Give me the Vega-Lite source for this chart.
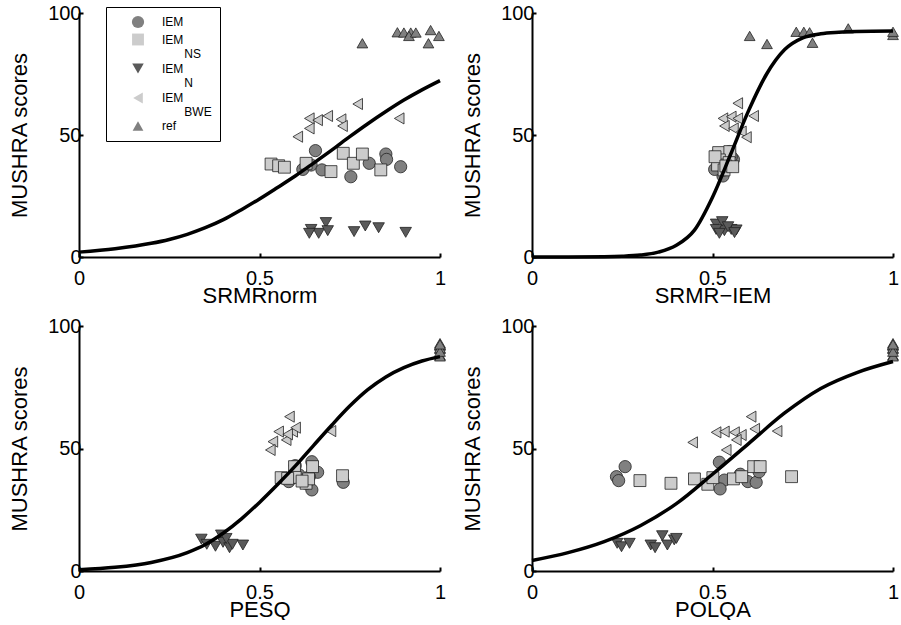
{
  "$schema": "https://vega.github.io/schema/vega-lite/v6.json",
  "autosize": {"type": "pad"},
  "padding": {"left": 8, "top": 3, "right": 0, "bottom": 0},
  "background": "white",
  "datasets": {
    "pts": [
      {"p":"SRMRnorm","c":"IEM","x":0.655,"y":43.6},{"p":"SRMRnorm","c":"IEM","x":0.620,"y":35.9},{"p":"SRMRnorm","c":"IEM","x":0.643,"y":37.7},{"p":"SRMRnorm","c":"IEM","x":0.673,"y":35.7},{"p":"SRMRnorm","c":"IEM","x":0.753,"y":32.9},{"p":"SRMRnorm","c":"IEM","x":0.804,"y":38.4},{"p":"SRMRnorm","c":"IEM","x":0.850,"y":42.2},{"p":"SRMRnorm","c":"IEM","x":0.852,"y":40.0},{"p":"SRMRnorm","c":"IEM","x":0.891,"y":37.0},
      {"p":"SRMRnorm","c":"IEM_NS","x":0.532,"y":38.1},{"p":"SRMRnorm","c":"IEM_NS","x":0.553,"y":37.4},{"p":"SRMRnorm","c":"IEM_NS","x":0.569,"y":36.8},{"p":"SRMRnorm","c":"IEM_NS","x":0.629,"y":38.4},{"p":"SRMRnorm","c":"IEM_NS","x":0.698,"y":35.0},{"p":"SRMRnorm","c":"IEM_NS","x":0.732,"y":42.5},{"p":"SRMRnorm","c":"IEM_NS","x":0.760,"y":38.4},{"p":"SRMRnorm","c":"IEM_NS","x":0.785,"y":42.2},{"p":"SRMRnorm","c":"IEM_NS","x":0.836,"y":35.7},
      {"p":"SRMRnorm","c":"IEM_N","x":0.643,"y":11.3},{"p":"SRMRnorm","c":"IEM_N","x":0.664,"y":9.7},{"p":"SRMRnorm","c":"IEM_N","x":0.684,"y":14.1},{"p":"SRMRnorm","c":"IEM_N","x":0.689,"y":10.8},{"p":"SRMRnorm","c":"IEM_N","x":0.762,"y":10.4},{"p":"SRMRnorm","c":"IEM_N","x":0.793,"y":12.7},{"p":"SRMRnorm","c":"IEM_N","x":0.830,"y":12.0},{"p":"SRMRnorm","c":"IEM_N","x":0.905,"y":10.1},{"p":"SRMRnorm","c":"IEM_N","x":0.638,"y":9.7},
      {"p":"SRMRnorm","c":"IEM_BWE","x":0.772,"y":62.7},{"p":"SRMRnorm","c":"IEM_BWE","x":0.638,"y":56.8},{"p":"SRMRnorm","c":"IEM_BWE","x":0.661,"y":56.1},{"p":"SRMRnorm","c":"IEM_BWE","x":0.689,"y":57.8},{"p":"SRMRnorm","c":"IEM_BWE","x":0.726,"y":56.4},{"p":"SRMRnorm","c":"IEM_BWE","x":0.730,"y":53.7},{"p":"SRMRnorm","c":"IEM_BWE","x":0.638,"y":52.7},{"p":"SRMRnorm","c":"IEM_BWE","x":0.606,"y":49.3},{"p":"SRMRnorm","c":"IEM_BWE","x":0.887,"y":56.8},
      {"p":"SRMRnorm","c":"ref","x":0.785,"y":87.6},{"p":"SRMRnorm","c":"ref","x":0.882,"y":92.1},{"p":"SRMRnorm","c":"ref","x":0.900,"y":92.0},{"p":"SRMRnorm","c":"ref","x":0.919,"y":92.0},{"p":"SRMRnorm","c":"ref","x":0.914,"y":90.6},{"p":"SRMRnorm","c":"ref","x":0.933,"y":92.0},{"p":"SRMRnorm","c":"ref","x":0.974,"y":93.0},{"p":"SRMRnorm","c":"ref","x":0.997,"y":90.6},{"p":"SRMRnorm","c":"ref","x":0.968,"y":87.6},

      {"p":"SRMR-IEM","c":"IEM","x":0.510,"y":41.8},{"p":"SRMR-IEM","c":"IEM","x":0.547,"y":43.2},{"p":"SRMR-IEM","c":"IEM","x":0.558,"y":40.0},{"p":"SRMR-IEM","c":"IEM","x":0.529,"y":33.2},{"p":"SRMR-IEM","c":"IEM","x":0.506,"y":35.9},{"p":"SRMR-IEM","c":"IEM","x":0.542,"y":37.7},{"p":"SRMR-IEM","c":"IEM","x":0.524,"y":38.4},{"p":"SRMR-IEM","c":"IEM","x":0.552,"y":41.1},{"p":"SRMR-IEM","c":"IEM","x":0.532,"y":35.7},
      {"p":"SRMR-IEM","c":"IEM_NS","x":0.517,"y":42.8},{"p":"SRMR-IEM","c":"IEM_NS","x":0.548,"y":43.2},{"p":"SRMR-IEM","c":"IEM_NS","x":0.519,"y":39.8},{"p":"SRMR-IEM","c":"IEM_NS","x":0.514,"y":37.7},{"p":"SRMR-IEM","c":"IEM_NS","x":0.532,"y":35.7},{"p":"SRMR-IEM","c":"IEM_NS","x":0.546,"y":38.7},{"p":"SRMR-IEM","c":"IEM_NS","x":0.507,"y":41.1},{"p":"SRMR-IEM","c":"IEM_NS","x":0.537,"y":37.3},{"p":"SRMR-IEM","c":"IEM_NS","x":0.556,"y":37.0},
      {"p":"SRMR-IEM","c":"IEM_N","x":0.510,"y":13.5},{"p":"SRMR-IEM","c":"IEM_N","x":0.527,"y":14.5},{"p":"SRMR-IEM","c":"IEM_N","x":0.533,"y":10.8},{"p":"SRMR-IEM","c":"IEM_N","x":0.510,"y":11.3},{"p":"SRMR-IEM","c":"IEM_N","x":0.552,"y":11.3},{"p":"SRMR-IEM","c":"IEM_N","x":0.566,"y":11.1},{"p":"SRMR-IEM","c":"IEM_N","x":0.543,"y":12.4},{"p":"SRMR-IEM","c":"IEM_N","x":0.519,"y":9.7},{"p":"SRMR-IEM","c":"IEM_N","x":0.561,"y":10.0},
      {"p":"SRMR-IEM","c":"IEM_BWE","x":0.570,"y":63.0},{"p":"SRMR-IEM","c":"IEM_BWE","x":0.529,"y":56.8},{"p":"SRMR-IEM","c":"IEM_BWE","x":0.552,"y":57.5},{"p":"SRMR-IEM","c":"IEM_BWE","x":0.570,"y":56.8},{"p":"SRMR-IEM","c":"IEM_BWE","x":0.614,"y":57.8},{"p":"SRMR-IEM","c":"IEM_BWE","x":0.533,"y":53.7},{"p":"SRMR-IEM","c":"IEM_BWE","x":0.558,"y":52.7},{"p":"SRMR-IEM","c":"IEM_BWE","x":0.580,"y":51.4},{"p":"SRMR-IEM","c":"IEM_BWE","x":0.594,"y":49.1},
      {"p":"SRMR-IEM","c":"ref","x":0.603,"y":90.6},{"p":"SRMR-IEM","c":"ref","x":0.651,"y":87.3},{"p":"SRMR-IEM","c":"ref","x":0.732,"y":92.3},{"p":"SRMR-IEM","c":"ref","x":0.753,"y":92.3},{"p":"SRMR-IEM","c":"ref","x":0.769,"y":92.1},{"p":"SRMR-IEM","c":"ref","x":0.777,"y":87.8},{"p":"SRMR-IEM","c":"ref","x":0.876,"y":93.7},{"p":"SRMR-IEM","c":"ref","x":1.0,"y":91.0},{"p":"SRMR-IEM","c":"ref","x":1.0,"y":92.3},

      {"p":"PESQ","c":"IEM","x":0.599,"y":43.0},{"p":"PESQ","c":"IEM","x":0.645,"y":44.6},{"p":"PESQ","c":"IEM","x":0.661,"y":40.3},{"p":"PESQ","c":"IEM","x":0.638,"y":38.5},{"p":"PESQ","c":"IEM","x":0.581,"y":36.5},{"p":"PESQ","c":"IEM","x":0.645,"y":33.1},{"p":"PESQ","c":"IEM","x":0.732,"y":36.2},{"p":"PESQ","c":"IEM","x":0.629,"y":35.8},{"p":"PESQ","c":"IEM","x":0.610,"y":39.2},
      {"p":"PESQ","c":"IEM_NS","x":0.597,"y":42.6},{"p":"PESQ","c":"IEM_NS","x":0.647,"y":42.6},{"p":"PESQ","c":"IEM_NS","x":0.560,"y":38.1},{"p":"PESQ","c":"IEM_NS","x":0.599,"y":38.2},{"p":"PESQ","c":"IEM_NS","x":0.629,"y":35.8},{"p":"PESQ","c":"IEM_NS","x":0.636,"y":37.6},{"p":"PESQ","c":"IEM_NS","x":0.730,"y":38.9},{"p":"PESQ","c":"IEM_NS","x":0.618,"y":36.7},{"p":"PESQ","c":"IEM_NS","x":0.578,"y":37.8},
      {"p":"PESQ","c":"IEM_N","x":0.339,"y":13.0},{"p":"PESQ","c":"IEM_N","x":0.354,"y":10.9},{"p":"PESQ","c":"IEM_N","x":0.378,"y":10.1},{"p":"PESQ","c":"IEM_N","x":0.394,"y":14.7},{"p":"PESQ","c":"IEM_N","x":0.399,"y":11.7},{"p":"PESQ","c":"IEM_N","x":0.417,"y":9.5},{"p":"PESQ","c":"IEM_N","x":0.425,"y":10.9},{"p":"PESQ","c":"IEM_N","x":0.454,"y":10.6},{"p":"PESQ","c":"IEM_N","x":0.408,"y":13.3},
      {"p":"PESQ","c":"IEM_BWE","x":0.583,"y":63.0},{"p":"PESQ","c":"IEM_BWE","x":0.553,"y":56.9},{"p":"PESQ","c":"IEM_BWE","x":0.574,"y":53.5},{"p":"PESQ","c":"IEM_BWE","x":0.592,"y":56.9},{"p":"PESQ","c":"IEM_BWE","x":0.600,"y":58.5},{"p":"PESQ","c":"IEM_BWE","x":0.537,"y":52.8},{"p":"PESQ","c":"IEM_BWE","x":0.530,"y":49.4},{"p":"PESQ","c":"IEM_BWE","x":0.578,"y":55.8},{"p":"PESQ","c":"IEM_BWE","x":0.698,"y":57.1},
      {"p":"PESQ","c":"ref","x":1.0,"y":92.1},{"p":"PESQ","c":"ref","x":1.0,"y":93.0},{"p":"PESQ","c":"ref","x":1.0,"y":92.0},{"p":"PESQ","c":"ref","x":1.0,"y":90.6},{"p":"PESQ","c":"ref","x":1.0,"y":88.0},{"p":"PESQ","c":"ref","x":1.0,"y":87.6},{"p":"PESQ","c":"ref","x":1.0,"y":91.0},{"p":"PESQ","c":"ref","x":1.0,"y":89.5},{"p":"PESQ","c":"ref","x":1.0,"y":92.5},

      {"p":"POLQA","c":"IEM","x":0.258,"y":42.6},{"p":"POLQA","c":"IEM","x":0.234,"y":38.5},{"p":"POLQA","c":"IEM","x":0.240,"y":36.9},{"p":"POLQA","c":"IEM","x":0.519,"y":44.4},{"p":"POLQA","c":"IEM","x":0.533,"y":37.1},{"p":"POLQA","c":"IEM","x":0.521,"y":33.5},{"p":"POLQA","c":"IEM","x":0.577,"y":39.5},{"p":"POLQA","c":"IEM","x":0.598,"y":36.5},{"p":"POLQA","c":"IEM","x":0.621,"y":36.2},{"p":"POLQA","c":"IEM","x":0.629,"y":40.5},
      {"p":"POLQA","c":"IEM_NS","x":0.299,"y":36.9},{"p":"POLQA","c":"IEM_NS","x":0.385,"y":35.8},{"p":"POLQA","c":"IEM_NS","x":0.450,"y":37.6},{"p":"POLQA","c":"IEM_NS","x":0.487,"y":35.4},{"p":"POLQA","c":"IEM_NS","x":0.501,"y":38.1},{"p":"POLQA","c":"IEM_NS","x":0.558,"y":37.6},{"p":"POLQA","c":"IEM_NS","x":0.581,"y":38.5},{"p":"POLQA","c":"IEM_NS","x":0.614,"y":42.6},{"p":"POLQA","c":"IEM_NS","x":0.632,"y":42.6},{"p":"POLQA","c":"IEM_NS","x":0.719,"y":38.5},
      {"p":"POLQA","c":"IEM_N","x":0.236,"y":11.3},{"p":"POLQA","c":"IEM_N","x":0.248,"y":9.9},{"p":"POLQA","c":"IEM_N","x":0.270,"y":11.3},{"p":"POLQA","c":"IEM_N","x":0.329,"y":10.6},{"p":"POLQA","c":"IEM_N","x":0.341,"y":9.5},{"p":"POLQA","c":"IEM_N","x":0.361,"y":14.4},{"p":"POLQA","c":"IEM_N","x":0.375,"y":10.6},{"p":"POLQA","c":"IEM_N","x":0.394,"y":12.7},{"p":"POLQA","c":"IEM_N","x":0.400,"y":13.3},
      {"p":"POLQA","c":"IEM_BWE","x":0.607,"y":63.0},{"p":"POLQA","c":"IEM_BWE","x":0.445,"y":52.5},{"p":"POLQA","c":"IEM_BWE","x":0.510,"y":56.6},{"p":"POLQA","c":"IEM_BWE","x":0.533,"y":56.9},{"p":"POLQA","c":"IEM_BWE","x":0.561,"y":56.6},{"p":"POLQA","c":"IEM_BWE","x":0.580,"y":55.5},{"p":"POLQA","c":"IEM_BWE","x":0.566,"y":53.5},{"p":"POLQA","c":"IEM_BWE","x":0.617,"y":58.0},{"p":"POLQA","c":"IEM_BWE","x":0.679,"y":57.1},{"p":"POLQA","c":"IEM_BWE","x":0.538,"y":49.4},
      {"p":"POLQA","c":"ref","x":1.0,"y":92.1},{"p":"POLQA","c":"ref","x":1.0,"y":93.0},{"p":"POLQA","c":"ref","x":1.0,"y":92.0},{"p":"POLQA","c":"ref","x":1.0,"y":90.6},{"p":"POLQA","c":"ref","x":1.0,"y":88.0},{"p":"POLQA","c":"ref","x":1.0,"y":87.6},{"p":"POLQA","c":"ref","x":1.0,"y":91.0},{"p":"POLQA","c":"ref","x":1.0,"y":89.5},{"p":"POLQA","c":"ref","x":1.0,"y":92.5}
    ],
    "fit": [
      {"p":"SRMRnorm","x":0.0,"y":2.0},{"p":"SRMRnorm","x":0.1,"y":3.4},{"p":"SRMRnorm","x":0.2,"y":5.6},{"p":"SRMRnorm","x":0.25,"y":7.2},{"p":"SRMRnorm","x":0.3,"y":9.3},{"p":"SRMRnorm","x":0.35,"y":12.0},{"p":"SRMRnorm","x":0.4,"y":15.3},{"p":"SRMRnorm","x":0.45,"y":19.4},{"p":"SRMRnorm","x":0.5,"y":23.8},{"p":"SRMRnorm","x":0.55,"y":28.5},{"p":"SRMRnorm","x":0.6,"y":33.3},{"p":"SRMRnorm","x":0.65,"y":38.5},{"p":"SRMRnorm","x":0.7,"y":43.8},{"p":"SRMRnorm","x":0.75,"y":49.3},{"p":"SRMRnorm","x":0.8,"y":54.6},{"p":"SRMRnorm","x":0.85,"y":59.6},{"p":"SRMRnorm","x":0.9,"y":64.3},{"p":"SRMRnorm","x":0.95,"y":68.5},{"p":"SRMRnorm","x":1.0,"y":72.3},
      {"p":"SRMR-IEM","x":0.0,"y":0.0},{"p":"SRMR-IEM","x":0.1,"y":0.0},{"p":"SRMR-IEM","x":0.2,"y":0.1},{"p":"SRMR-IEM","x":0.25,"y":0.3},{"p":"SRMR-IEM","x":0.3,"y":0.8},{"p":"SRMR-IEM","x":0.35,"y":2.0},{"p":"SRMR-IEM","x":0.4,"y":4.8},{"p":"SRMR-IEM","x":0.45,"y":11.0},{"p":"SRMR-IEM","x":0.5,"y":24.5},{"p":"SRMR-IEM","x":0.55,"y":42.0},{"p":"SRMR-IEM","x":0.6,"y":60.0},{"p":"SRMR-IEM","x":0.65,"y":75.0},{"p":"SRMR-IEM","x":0.7,"y":85.0},{"p":"SRMR-IEM","x":0.75,"y":89.8},{"p":"SRMR-IEM","x":0.8,"y":91.5},{"p":"SRMR-IEM","x":0.85,"y":92.1},{"p":"SRMR-IEM","x":0.9,"y":92.4},{"p":"SRMR-IEM","x":1.0,"y":92.6},
      {"p":"PESQ","x":0.0,"y":0.5},{"p":"PESQ","x":0.1,"y":1.5},{"p":"PESQ","x":0.2,"y":3.5},{"p":"PESQ","x":0.3,"y":7.5},{"p":"PESQ","x":0.35,"y":10.8},{"p":"PESQ","x":0.4,"y":15.5},{"p":"PESQ","x":0.45,"y":21.3},{"p":"PESQ","x":0.5,"y":28.0},{"p":"PESQ","x":0.55,"y":35.3},{"p":"PESQ","x":0.6,"y":43.0},{"p":"PESQ","x":0.65,"y":51.3},{"p":"PESQ","x":0.7,"y":59.5},{"p":"PESQ","x":0.75,"y":67.3},{"p":"PESQ","x":0.8,"y":74.0},{"p":"PESQ","x":0.85,"y":79.2},{"p":"PESQ","x":0.9,"y":83.0},{"p":"PESQ","x":0.95,"y":85.7},{"p":"PESQ","x":1.0,"y":87.5},
      {"p":"POLQA","x":0.0,"y":4.3},{"p":"POLQA","x":0.1,"y":7.5},{"p":"POLQA","x":0.2,"y":12.0},{"p":"POLQA","x":0.3,"y":18.5},{"p":"POLQA","x":0.4,"y":27.5},{"p":"POLQA","x":0.5,"y":39.5},{"p":"POLQA","x":0.6,"y":52.0},{"p":"POLQA","x":0.7,"y":64.5},{"p":"POLQA","x":0.8,"y":74.5},{"p":"POLQA","x":0.9,"y":81.0},{"p":"POLQA","x":1.0,"y":85.5}
    ]
  },
  "columns": 2,
  "spacing": {"row": 69, "column": 92},
  "bounds": "flush",
  "resolve": {"scale": {"shape": "independent", "fill": "independent", "size": "independent"}, "legend": {"shape": "independent", "fill": "independent", "size": "independent"}},
  "concat": [
    {
      "width": 361, "height": 244,
      "encoding": {
        "x": {"field": "x", "type": "quantitative", "scale": {"domain": [0, 1], "nice": false}, "axis": {"title": "SRMRnorm", "values": [0, 0.5, 1], "format": "~g"}},
        "y": {"field": "y", "type": "quantitative", "scale": {"domain": [0, 100], "nice": false}, "axis": {"title": "MUSHRA scores", "values": [0, 50, 100], "format": "d"}}
      },
      "layer": [
        {
          "data": {"name": "pts"},
          "transform": [{"filter": "datum.p == 'SRMRnorm'"}],
          "mark": {"type": "point", "filled": true, "opacity": 1, "stroke": "#222222", "strokeWidth": 0.8},
          "encoding": {
            "shape": {"field": "c", "type": "nominal", "scale": {"domain": ["IEM", "IEM_NS", "IEM_N", "IEM_BWE", "ref"], "range": ["circle", "square", "triangle-down", "triangle-left", "triangle-up"]}, "legend": {"orient": "none", "legendX": 27, "legendY": -6, "title": null, "labelExpr": "datum.label == 'IEM_NS' ? ['IEM', '\u2800\u00a0\u00a0\u00a0\u00a0NS'] : datum.label == 'IEM_N' ? ['IEM', '\u2800\u00a0\u00a0\u00a0\u00a0N'] : datum.label == 'IEM_BWE' ? ['IEM', '\u2800\u00a0\u00a0\u00a0\u00a0BWE'] : datum.label", "encode": {"labels": {"update": {"lineHeight": {"value": 11}, "dy": {"signal": "datum.value == 'IEM' || datum.value == 'ref' ? 0 : -4"}}}}}},
            "fill": {"field": "c", "type": "nominal", "scale": {"domain": ["IEM", "IEM_NS", "IEM_N", "IEM_BWE", "ref"], "range": ["#808080", "#cccccc", "#5a5a5a", "#cccccc", "#808080"]}, "legend": {"orient": "none", "legendX": 27, "legendY": -6, "title": null, "labelExpr": "datum.label == 'IEM_NS' ? ['IEM', '\u2800\u00a0\u00a0\u00a0\u00a0NS'] : datum.label == 'IEM_N' ? ['IEM', '\u2800\u00a0\u00a0\u00a0\u00a0N'] : datum.label == 'IEM_BWE' ? ['IEM', '\u2800\u00a0\u00a0\u00a0\u00a0BWE'] : datum.label", "encode": {"labels": {"update": {"lineHeight": {"value": 11}, "dy": {"signal": "datum.value == 'IEM' || datum.value == 'ref' ? 0 : -4"}}}}}},
            "size": {"field": "c", "type": "ordinal", "scale": {"domain": ["IEM", "IEM_NS", "IEM_N", "IEM_BWE", "ref"], "range": [150, 115, 190, 190, 190]}, "legend": {"orient": "none", "legendX": 27, "legendY": -6, "title": null, "labelExpr": "datum.label == 'IEM_NS' ? ['IEM', '\u2800\u00a0\u00a0\u00a0\u00a0NS'] : datum.label == 'IEM_N' ? ['IEM', '\u2800\u00a0\u00a0\u00a0\u00a0N'] : datum.label == 'IEM_BWE' ? ['IEM', '\u2800\u00a0\u00a0\u00a0\u00a0BWE'] : datum.label", "encode": {"labels": {"update": {"lineHeight": {"value": 11}, "dy": {"signal": "datum.value == 'IEM' || datum.value == 'ref' ? 0 : -4"}}}}}}
          }
        },
        {
          "data": {"name": "fit"},
          "transform": [{"filter": "datum.p == 'SRMRnorm'"}],
          "mark": {"type": "line", "color": "black", "strokeWidth": 3.5, "interpolate": "monotone"},
          "encoding": {}
        }
      ]
    },
    {
      "width": 361, "height": 244,
      "encoding": {
        "x": {"field": "x", "type": "quantitative", "scale": {"domain": [0, 1], "nice": false}, "axis": {"title": "SRMR−IEM", "values": [0, 0.5, 1], "format": "~g"}},
        "y": {"field": "y", "type": "quantitative", "scale": {"domain": [0, 100], "nice": false}, "axis": {"title": "MUSHRA scores", "values": [0, 50, 100], "format": "d"}}
      },
      "layer": [
        {
          "data": {"name": "pts"},
          "transform": [{"filter": "datum.p == 'SRMR-IEM'"}],
          "mark": {"type": "point", "filled": true, "opacity": 1, "stroke": "#222222", "strokeWidth": 0.8},
          "encoding": {
            "shape": {"field": "c", "type": "nominal", "scale": {"domain": ["IEM", "IEM_NS", "IEM_N", "IEM_BWE", "ref"], "range": ["circle", "square", "triangle-down", "triangle-left", "triangle-up"]}, "legend": null},
            "fill": {"field": "c", "type": "nominal", "scale": {"domain": ["IEM", "IEM_NS", "IEM_N", "IEM_BWE", "ref"], "range": ["#808080", "#cccccc", "#5a5a5a", "#cccccc", "#808080"]}, "legend": null},
            "size": {"field": "c", "type": "ordinal", "scale": {"domain": ["IEM", "IEM_NS", "IEM_N", "IEM_BWE", "ref"], "range": [150, 115, 190, 190, 190]}, "legend": null}
          }
        },
        {
          "data": {"name": "fit"},
          "transform": [{"filter": "datum.p == 'SRMR-IEM'"}],
          "mark": {"type": "line", "color": "black", "strokeWidth": 3.5, "interpolate": "monotone"},
          "encoding": {}
        }
      ]
    },
    {
      "width": 361, "height": 245,
      "encoding": {
        "x": {"field": "x", "type": "quantitative", "scale": {"domain": [0, 1], "nice": false}, "axis": {"title": "PESQ", "values": [0, 0.5, 1], "format": "~g"}},
        "y": {"field": "y", "type": "quantitative", "scale": {"domain": [0, 100], "nice": false}, "axis": {"title": "MUSHRA scores", "values": [0, 50, 100], "format": "d"}}
      },
      "layer": [
        {
          "data": {"name": "pts"},
          "transform": [{"filter": "datum.p == 'PESQ'"}],
          "mark": {"type": "point", "filled": true, "opacity": 1, "stroke": "#222222", "strokeWidth": 0.8},
          "encoding": {
            "shape": {"field": "c", "type": "nominal", "scale": {"domain": ["IEM", "IEM_NS", "IEM_N", "IEM_BWE", "ref"], "range": ["circle", "square", "triangle-down", "triangle-left", "triangle-up"]}, "legend": null},
            "fill": {"field": "c", "type": "nominal", "scale": {"domain": ["IEM", "IEM_NS", "IEM_N", "IEM_BWE", "ref"], "range": ["#808080", "#cccccc", "#5a5a5a", "#cccccc", "#808080"]}, "legend": null},
            "size": {"field": "c", "type": "ordinal", "scale": {"domain": ["IEM", "IEM_NS", "IEM_N", "IEM_BWE", "ref"], "range": [150, 115, 190, 190, 190]}, "legend": null}
          }
        },
        {
          "data": {"name": "fit"},
          "transform": [{"filter": "datum.p == 'PESQ'"}],
          "mark": {"type": "line", "color": "black", "strokeWidth": 3.5, "interpolate": "monotone"},
          "encoding": {}
        }
      ]
    },
    {
      "width": 361, "height": 245,
      "encoding": {
        "x": {"field": "x", "type": "quantitative", "scale": {"domain": [0, 1], "nice": false}, "axis": {"title": "POLQA", "values": [0, 0.5, 1], "format": "~g"}},
        "y": {"field": "y", "type": "quantitative", "scale": {"domain": [0, 100], "nice": false}, "axis": {"title": "MUSHRA scores", "values": [0, 50, 100], "format": "d"}}
      },
      "layer": [
        {
          "data": {"name": "pts"},
          "transform": [{"filter": "datum.p == 'POLQA'"}],
          "mark": {"type": "point", "filled": true, "opacity": 1, "stroke": "#222222", "strokeWidth": 0.8},
          "encoding": {
            "shape": {"field": "c", "type": "nominal", "scale": {"domain": ["IEM", "IEM_NS", "IEM_N", "IEM_BWE", "ref"], "range": ["circle", "square", "triangle-down", "triangle-left", "triangle-up"]}, "legend": null},
            "fill": {"field": "c", "type": "nominal", "scale": {"domain": ["IEM", "IEM_NS", "IEM_N", "IEM_BWE", "ref"], "range": ["#808080", "#cccccc", "#5a5a5a", "#cccccc", "#808080"]}, "legend": null},
            "size": {"field": "c", "type": "ordinal", "scale": {"domain": ["IEM", "IEM_NS", "IEM_N", "IEM_BWE", "ref"], "range": [150, 115, 190, 190, 190]}, "legend": null}
          }
        },
        {
          "data": {"name": "fit"},
          "transform": [{"filter": "datum.p == 'POLQA'"}],
          "mark": {"type": "line", "color": "black", "strokeWidth": 3.5, "interpolate": "monotone"},
          "encoding": {}
        }
      ]
    }
  ],
  "config": {
    "view": {"stroke": null},
    "font": "Liberation Sans",
    "axis": {
      "grid": false, "domainColor": "black", "domainWidth": 2, "tickColor": "black", "tickWidth": 2, "tickSize": -4,
      "labelFont": "Liberation Sans", "labelFontSize": 20, "labelColor": "black", "labelFlush": false, "labelOverlap": false, "labelBound": false,
      "titleFont": "Liberation Sans", "titleFontSize": 22, "titleFontWeight": "normal", "titleColor": "black"
    },
    "axisX": {"labelPadding": 15, "titlePadding": -3},
    "axisY": {"labelPadding": 2, "titlePadding": 16},
    "legend": {
      "padding": 8, "symbolOffset": 17, "labelOffset": 17, "labelFont": "Liberation Sans", "labelFontSize": 12, "labelColor": "black",
      "strokeColor": "black", "strokeWidth": 1, "fillColor": "white", "rowPadding": 1, "symbolStrokeColor": "#222222", "symbolStrokeWidth": 0.8
    }
  }
}
